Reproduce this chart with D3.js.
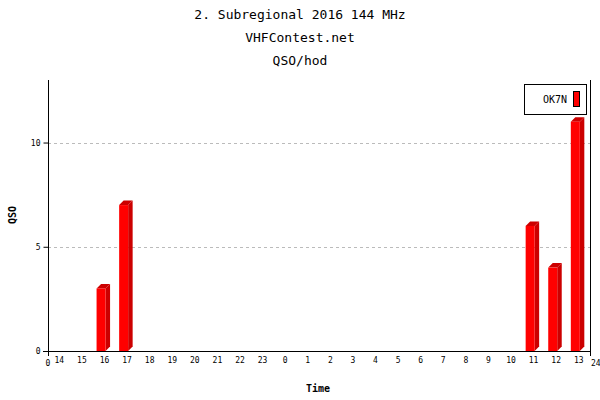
<!DOCTYPE html>
<html><head><meta charset="utf-8">
<script src="https://cdn.jsdelivr.net/npm/d3@7"></script>
<style>body{margin:0;background:#fff}svg{display:block}text{font-family:"DejaVu Sans Mono",monospace}</style>
</head><body><div id="c"></div>
<script>
const hours = ["14","15","16","17","18","19","20","21","22","23","0","1","2","3","4","5","6","7","8","9","10","11","12","13"];
const qso   = [0,0,3,7,0,0,0,0,0,0,0,0,0,0,0,0,0,0,0,0,0,6,4,11];
const yTicks = [0,5,10];
const titles = ["2. Subregional 2016 144 MHz","VHFContest.net","QSO/hod"];
const seriesName = "OK7N";

const W=600,H=400, L=48, R=590, T=80, B=351;
const svg=d3.select("#c").append("svg").attr("width",W).attr("height",H);
const x=d3.scaleBand().domain(hours).range([L,R]).padding(0);
const y=d3.scaleLinear().domain([0,13]).range([B,T]);

titles.forEach((t,i)=>svg.append("text").attr("x",260+ (i===0?0:0)).attr("x",W/2-0).attr("y",19+i*23)
  .attr("text-anchor","middle").attr("font-size",13).attr("fill","#000").text(t));

// grid
svg.append("g").selectAll("line").data(yTicks.filter(d=>d>0)).join("line")
  .attr("x1",L).attr("x2",R).attr("y1",d=>Math.round(y(d))+0.5).attr("y2",d=>Math.round(y(d))+0.5)
  .attr("stroke","#bbb").attr("stroke-dasharray","3,3");

// bars
const off=3.4,bw=9,dp=4.5;
const bars=svg.append("g").selectAll("g").data(hours.map((h,i)=>({h,v:qso[i]})).filter(d=>d.v>0)).join("g");
bars.append("polygon").attr("fill","#cc0000").attr("points",d=>{const x0=x(d.h)+off+bw,yt=y(d.v);return [[x0,yt],[x0+dp,yt-dp],[x0+dp,B-dp],[x0,B]].join(" ");});
bars.append("polygon").attr("fill","#cc0000").attr("points",d=>{const x0=x(d.h)+off,yt=y(d.v);return [[x0,yt],[x0+dp,yt-dp],[x0+bw+dp,yt-dp],[x0+bw,yt]].join(" ");});
bars.append("rect").attr("fill","#ff0000").attr("x",d=>x(d.h)+off).attr("width",bw).attr("y",d=>y(d.v)).attr("height",d=>B-y(d.v));

// axes
const yAx=svg.append("g").attr("transform",`translate(${L+0.5},0)`).call(d3.axisLeft(y).tickValues(yTicks).tickSize(5).tickFormat(d3.format("d")));
yAx.select(".domain").remove();
yAx.selectAll("text").attr("font-size",8).attr("font-family","DejaVu Sans Mono").attr("x",-8);
svg.append("line").attr("x1",L+0.5).attr("x2",L+0.5).attr("y1",T).attr("y2",B+5).attr("stroke","#000");
svg.append("line").attr("x1",R+0.5).attr("x2",R+0.5).attr("y1",T).attr("y2",B+5).attr("stroke","#000");
const xAx=svg.append("g").attr("transform",`translate(0,${B+0.5})`).call(d3.axisBottom(x).tickSize(0).tickPadding(6));
xAx.select(".domain").attr("d",`M${L-5},0H${R}`);
xAx.selectAll("text").attr("font-size",8).attr("font-family","DejaVu Sans Mono");
svg.append("text").attr("x",L).attr("y",366).attr("text-anchor","middle").attr("font-size",8).text("0");
svg.append("text").attr("x",R+1).attr("y",366).attr("text-anchor","start").attr("font-size",8).text("24");

// axis titles
svg.append("text").attr("x",318).attr("y",392).attr("text-anchor","middle").attr("font-size",10).attr("font-weight","bold").text("Time");
svg.append("text").attr("transform","translate(16,215) rotate(-90)").attr("text-anchor","middle").attr("font-size",10).attr("font-weight","bold").text("QSO");

// legend
const lg=svg.append("g");
lg.append("rect").attr("x",524.5).attr("y",84.5).attr("width",62).attr("height",30).attr("fill","#fff").attr("stroke","#000");
lg.append("text").attr("x",567).attr("y",103).attr("text-anchor","end").attr("font-size",10).text(seriesName);
lg.append("rect").attr("x",573.5).attr("y",91.5).attr("width",6).attr("height",15).attr("fill","#ff0000").attr("stroke","#000");
</script></body></html>
